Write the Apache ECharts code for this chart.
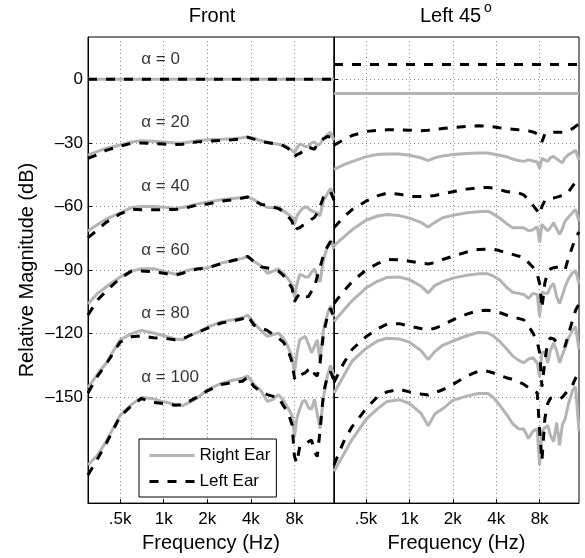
<!DOCTYPE html>
<html><head><meta charset="utf-8">
<script src="https://cdn.jsdelivr.net/npm/echarts@6/dist/echarts.min.js"></script>
<style>html,body{margin:0;padding:0;background:#fff}#c{width:585px;height:558px}</style>
</head><body><div id="c"></div>
<script>
// ---------- data ----------
const FREQ = [300,350,400,500,600,700,850,1000,1200,1350,1500,1700,2000,2500,3000,3500,3800,4200,4700,5200,5700,6200,6700,7200,7700,8000,8300,8700,9100,9500,10000,10500,11000,11500,12000,12700,13500,14200,15000];
const FLAT_FREQ = [300, 15000];
const ALPHAS = [0, 20, 40, 60, 80, 100];
const X_TICKS = [500, 1000, 2000, 4000, 8000];
const X_TICK_LABELS = ['.5k', '1k', '2k', '4k', '8k'];
const Y_TICKS = [0, -30, -60, -90, -120, -150];

// Front panel
const FRONT_R_0 = [0, 0];
const FRONT_L_0 = [0, 0];
const FRONT_R_20 = [-35.8,-34,-32.6,-31,-29.5,-29,-29.2,-29.5,-30,-30,-29.6,-29,-28.5,-28.3,-28,-27.6,-27.2,-27.8,-29,-29.8,-30.3,-30.6,-31.2,-32,-33.5,-34.5,-32.5,-30.5,-31,-31.8,-31.5,-30,-29.5,-31,-30.5,-28,-26,-25,-28.8];
const FRONT_L_20 = [-37.3,-35.5,-33.5,-31.5,-30.2,-30,-30.3,-30.5,-30.8,-30.6,-30,-29.5,-29.2,-28.8,-28.5,-28,-27.3,-28.2,-29.3,-29.8,-30.3,-30.6,-31.3,-32.5,-34.5,-36.5,-35.5,-35,-34,-32.5,-32,-32.5,-33,-30.5,-29.5,-28,-27,-27.2,-29.5];
const FRONT_R_40 = [-71.6,-68.5,-66,-63,-60.5,-60,-60,-60.3,-61,-60.5,-59.8,-58.8,-58,-56.8,-56.2,-55.8,-55.5,-56.8,-58.8,-60.5,-60.5,-60.2,-62,-63.5,-65,-68.4,-64.5,-62.5,-61,-60,-61,-62,-62.5,-63,-64.5,-57,-54,-51.5,-55];
const FRONT_L_40 = [-74.7,-71,-67.5,-63.5,-61.3,-61.5,-61.5,-61.5,-61.4,-61,-60.3,-59.3,-58.8,-57.5,-56.8,-56,-55.5,-57.2,-59,-59.5,-60.3,-61,-62.5,-64.5,-67,-71.6,-70.5,-70,-69,-68.4,-67.5,-66,-65.2,-63,-60,-55.5,-54,-53,-57];
const FRONT_R_60 = [-106,-101,-98,-93.3,-90.5,-89.4,-89.4,-90.5,-92,-91,-90,-89.3,-89,-86.7,-85.5,-84.5,-83.5,-86,-88,-91.5,-90.5,-89.5,-91.5,-94,-97,-102.7,-97,-92,-92.5,-93.3,-93.3,-91,-89.5,-93,-95.7,-85,-79,-76,-80];
const FRONT_L_60 = [-111.2,-104,-100,-93.8,-90.5,-90.4,-90.8,-91.5,-92.4,-91.5,-90.5,-89.5,-89,-87,-85.5,-84.5,-83.5,-86,-88.5,-89,-89.5,-90.5,-92.5,-95.5,-98.5,-105,-103,-101,-101.5,-102.7,-102.5,-100,-98,-93,-88.8,-83,-79,-76.6,-80];
const FRONT_R_80 = [-145.5,-139,-134,-122.9,-120,-118.5,-119.7,-121,-122.5,-122.9,-121,-119.5,-117,-114.5,-113.5,-112.5,-111.2,-115,-118.5,-121.3,-120.5,-119.8,-122,-126,-131,-138.5,-130,-122.9,-122,-121.3,-125,-129,-126,-123,-132.6,-118,-111,-107,-112];
const FRONT_L_80 = [-148,-140,-134.5,-124,-121.5,-121,-122,-122.2,-122.9,-122.5,-121,-119.5,-117.5,-115,-114,-113,-111.5,-116,-117.5,-118.5,-120.5,-122,-124,-127.5,-133.5,-141,-142,-140,-139,-138.5,-137,-136,-139,-140,-134,-120,-112,-108,-113];
const FRONT_R_100 = [-182,-177.3,-171,-158.6,-153.5,-150.2,-150.8,-152.2,-153.5,-154,-152.5,-150.5,-146.5,-143.5,-142,-141,-140,-144,-147,-152,-151,-148.8,-151.5,-155,-158.6,-168.7,-160,-155.6,-152,-151.5,-155,-155.6,-151,-158,-164.8,-150,-140,-135,-140];
const FRONT_L_100 = [-186.7,-179,-172,-159,-154,-150.6,-152.5,-153,-153.8,-153.5,-152,-150,-147,-144,-143,-142.5,-140.5,-145,-147.5,-148.8,-149.6,-150,-154,-157,-163,-178,-181,-173.4,-172.5,-172,-171,-170.3,-176,-178,-166,-148,-140,-138,-142];

// Left 45° panel
const L45_R_0 = [-6.7, -6.7];
const L45_L_0 = [7, 7];
const L45_R_20 = [-42.5,-40.3,-38.8,-36.5,-35.5,-35.2,-35.2,-35.8,-37,-38.4,-37,-36.2,-35.5,-35,-34.7,-34.8,-35.2,-35.8,-36.5,-37.6,-38.3,-38.7,-38,-38.5,-39,-42,-37.3,-38,-38.7,-37,-36.4,-37.5,-38.5,-39.4,-37,-35.5,-34.5,-33.4,-38];
const L45_L_20 = [-31.1,-28.5,-26.5,-24.6,-24,-23.8,-23.8,-24,-24.3,-24,-23.6,-23.2,-22.7,-22.2,-21.9,-22.1,-22.4,-22.8,-23.2,-23.5,-23.8,-24,-24.3,-24.8,-25.7,-27,-29.5,-25.7,-25.3,-25,-24.9,-24.9,-24.9,-24.9,-24.9,-24,-23.3,-22.2,-21];
const L45_R_40 = [-78.5,-74.5,-71,-66.5,-64.5,-63.8,-64.3,-65.5,-67.5,-69.7,-67.5,-65.3,-64.2,-63,-62.5,-62.2,-63.5,-65.3,-68,-70,-70,-70,-71.5,-71,-69.5,-77,-68.4,-70,-71.5,-70,-67.7,-70.5,-73.1,-70.5,-67,-65,-63,-61.4,-66.9];
const L45_L_40 = [-70,-65,-61.5,-57.5,-55,-53.7,-54.2,-55.2,-55.3,-55.2,-54.8,-54,-53,-51.8,-51.2,-51,-51.3,-52,-52.9,-53.3,-53.6,-54.5,-57,-59.5,-62,-63.8,-60,-57.2,-56.5,-56.2,-56,-55.6,-55.2,-54.9,-54.5,-53,-50.5,-48.5,-47];
const L45_R_60 = [-114.3,-109,-104.5,-98.5,-95.3,-93.5,-93.3,-94.5,-97.5,-100.8,-97.3,-95.5,-93.8,-92.5,-91.8,-91.8,-92.8,-94.5,-98,-100.5,-101,-101.5,-103.4,-101,-101.5,-112,-100.3,-101,-101,-98,-96.4,-102.7,-105.8,-102,-98,-94,-91.5,-90.2,-96.4];
const L45_L_60 = [-105.8,-100,-95.5,-90,-87,-85,-85.2,-85.8,-86.8,-87.1,-86.5,-85,-83.5,-81.5,-80.3,-80.1,-80.1,-80.8,-82,-82.6,-83.4,-84,-86.5,-88.7,-92,-96.4,-108,-96,-91,-89.5,-88.9,-88.7,-88.7,-89.5,-90,-84,-79,-74.7,-72];
const L45_R_80 = [-148,-140,-133,-127,-123.5,-122.2,-122.5,-124,-128,-132.2,-128.5,-125.5,-123.5,-121,-119.5,-119.7,-121,-123.5,-127,-130.5,-132.5,-133.8,-132,-131.4,-134,-140.5,-129,-128.5,-133.8,-128,-124.5,-128,-133.8,-130,-127,-122,-118.5,-116.7,-127.5];
const L45_L_80 = [-143,-134,-127.5,-121.5,-117.8,-115.5,-115.3,-116.5,-117.6,-118.2,-117.5,-116,-113.5,-110.8,-109.2,-109,-109.4,-110,-111.2,-112.2,-112.8,-113.5,-116.5,-119.8,-124,-129,-145,-133,-124,-122,-122.5,-124,-125,-125.5,-126,-120,-114,-109,-106];
const L45_R_100 = [-185,-177,-170,-160.5,-155.5,-152,-151.2,-153,-157.5,-163.5,-158,-155.5,-151.5,-149.5,-148.3,-148.3,-150,-153.5,-158,-162.5,-164.9,-165,-169.5,-166,-165,-182,-166,-164.5,-163.3,-168,-171,-162,-172.7,-163,-160.5,-153,-147,-145,-166];
const L45_L_100 = [-182,-171,-164,-155.5,-149.8,-147.5,-146.3,-147.5,-148.5,-149,-148,-146.5,-144,-140,-137.8,-137.8,-138.5,-139.7,-140.8,-141.6,-142.8,-143.9,-145.5,-146.5,-148,-166,-180,-160,-153,-150.5,-150.2,-150.5,-150.9,-150,-148.5,-146.5,-144.5,-141,-138];

// ---------- chart ----------
const FONT = '"Liberation Sans", Arial, Helvetica, sans-serif';
const GRAY = '#b4b4b4';
const PANELS = [
  { right: [FRONT_R_0, FRONT_R_20, FRONT_R_40, FRONT_R_60, FRONT_R_80, FRONT_R_100],
    left:  [FRONT_L_0, FRONT_L_20, FRONT_L_40, FRONT_L_60, FRONT_L_80, FRONT_L_100] },
  { right: [L45_R_0, L45_R_20, L45_R_40, L45_R_60, L45_R_80, L45_R_100],
    left:  [L45_L_0, L45_L_20, L45_L_40, L45_L_60, L45_L_80, L45_L_100] }
];

function pair(vals) {
  const f = vals.length === 2 ? FLAT_FREQ : FREQ;
  return vals.map((v, i) => [f[i], v]);
}
function lineSeries(name, g, vals, dashed) {
  return {
    type: 'line', name, xAxisIndex: g, yAxisIndex: g, data: pair(vals),
    symbol: 'none', silent: true, animation: false, clip: true,
    z: dashed ? 3 : 2,
    itemStyle: { color: dashed ? '#000' : GRAY },
    lineStyle: dashed ? { color: '#000', width: 3, type: [9, 9], cap: 'butt' }
                      : { color: GRAY, width: 3 }
  };
}

const series = [];
PANELS.forEach((p, g) => {
  p.right.forEach(v => series.push(lineSeries('Right Ear', g, v, false)));
  p.left.forEach(v => series.push(lineSeries('Left Ear', g, v, true)));
});
series.push({
  type: 'scatter', xAxisIndex: 0, yAxisIndex: 0, symbolSize: 0, silent: true, animation: false,
  data: ALPHAS.map((a, i) => ({ value: [700, 9.5 - 30 * i], name: '\u03b1 = ' + a })),
  label: { show: true, position: 'right', distance: 0, formatter: '{b}', fontSize: 17, color: '#000', fontFamily: FONT }
});

function xAxis(g) {
  return {
    type: 'log', logBase: 2, gridIndex: g, min: 300, max: 15000,
    name: 'Frequency (Hz)', nameLocation: 'middle', nameGap: 26,
    nameTextStyle: { fontSize: 20, color: '#000', fontFamily: FONT },
    axisLine: { show: true, onZero: false, lineStyle: { color: '#000', width: 1 } },
    axisTick: { show: true, inside: true, length: 4, customValues: X_TICKS, lineStyle: { color: '#000' } },
    axisLabel: { show: true, customValues: X_TICKS, margin: 8, fontSize: 17, color: '#000', fontFamily: FONT,
      formatter: v => { let best = 0; X_TICKS.forEach((t, i) => { if (Math.abs(t - v) < Math.abs(X_TICKS[best] - v)) best = i; }); return X_TICK_LABELS[best]; } },
    splitLine: { show: true, lineStyle: { color: '#888', type: [1, 3], width: 1 } },
    minorTick: { show: false }, minorSplitLine: { show: false }
  };
}
function yAxis(g) {
  return {
    type: 'value', gridIndex: g, min: -200, max: 20,
    name: g === 0 ? 'Relative Magnitude (dB)' : '', nameLocation: 'middle', nameGap: 51, nameRotate: 90,
    nameTextStyle: { fontSize: 20, color: '#000', fontFamily: FONT },
    axisLine: { show: true, onZero: false, lineStyle: { color: '#000', width: 1 } },
    axisTick: { show: true, inside: true, length: 4, customValues: Y_TICKS, lineStyle: { color: '#000' } },
    axisLabel: { show: g === 0, customValues: Y_TICKS, margin: 5, fontSize: 17, color: '#000', fontFamily: FONT,
      formatter: v => (v < 0 ? '\u2013' + (-v) : String(v)) },
    splitLine: { show: true, lineStyle: { color: '#888', type: [1, 3], width: 1 } }
  };
}

const chart = echarts.init(document.getElementById('c'), null, { renderer: 'canvas' });
chart.setOption({
  backgroundColor: '#fff',
  animation: false,
  textStyle: { fontFamily: FONT },
  grid: [
    { left: 88, top: 37, width: 246, height: 471, show: true, borderColor: '#000', borderWidth: 1, backgroundColor: 'transparent', containLabel: false },
    { left: 334, top: 37, width: 245, height: 471, show: true, borderColor: '#000', borderWidth: 1, backgroundColor: 'transparent', containLabel: false }
  ],
  xAxis: [xAxis(0), xAxis(1)],
  yAxis: [yAxis(0), yAxis(1)],
  legend: {
    data: ['Right Ear', 'Left Ear'], orient: 'vertical', left: 139, top: 439,
    itemWidth: 45, itemHeight: 14, itemGap: 9, padding: [8, 6, 7, 9],
    backgroundColor: '#fff', borderColor: '#000', borderWidth: 1, borderRadius: 0,
    selectedMode: false,
    itemStyle: { opacity: 0, borderWidth: 0 },
    lineStyle: { width: 3 },
    textStyle: { fontSize: 17, color: '#000', fontFamily: FONT }
  },
  graphic: [
    { type: 'text', x: 212, y: 16, silent: true, style: { text: 'Front', align: 'center', verticalAlign: 'middle', fontSize: 20, fontFamily: FONT, fill: '#000' } },
    { type: 'text', x: 420, y: 16, silent: true, style: { text: 'Left 45', align: 'left', verticalAlign: 'middle', fontSize: 20, fontFamily: FONT, fill: '#000' } },
    { type: 'text', x: 484, y: 8, silent: true, style: { text: 'o', align: 'left', verticalAlign: 'middle', fontSize: 14, fontFamily: FONT, fill: '#000' } }
  ],
  series
});
</script>
</body></html>
